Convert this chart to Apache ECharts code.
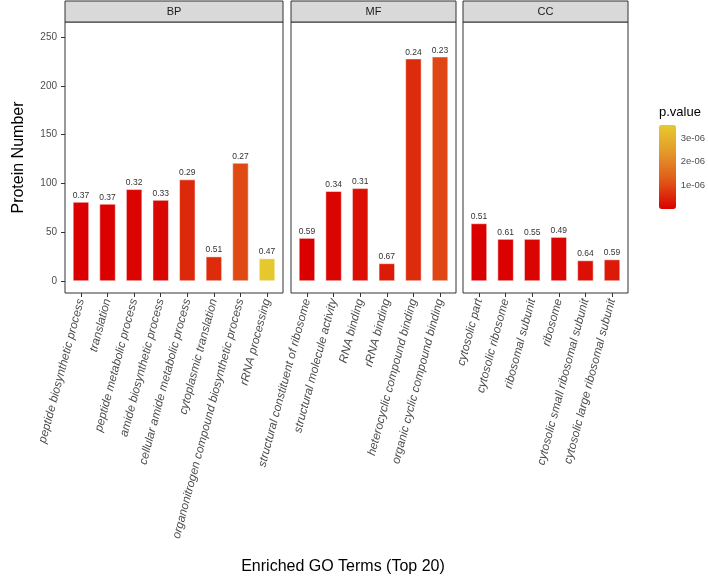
<!DOCTYPE html>
<html><head><meta charset="utf-8">
<script src="https://cdn.jsdelivr.net/npm/echarts@6/dist/echarts.min.js"></script>
<style>html,body{margin:0;padding:0;background:#fff}#c{width:708px;height:581px}</style>
</head><body><div id="c"></div>
<script>
// ---- data ----
const panelNames = ['BP', 'MF', 'CC'];

const bpTerms = ['peptide biosynthetic process', 'translation', 'peptide metabolic process', 'amide biosynthetic process', 'cellular amide metabolic process', 'cytoplasmic translation', 'organonitrogen compound biosynthetic process', 'rRNA processing'];
const bpCounts = [81, 79, 94, 83, 104, 25, 121, 23];
const bpRatios = [0.37, 0.37, 0.32, 0.33, 0.29, 0.51, 0.27, 0.47];
const bpPvals = [0.0e-6, 0.02e-6, 0.05e-6, 0.08e-6, 0.55e-6, 0.6e-6, 1.0e-6, 3.5e-6];

const mfTerms = ['structural constituent of ribosome', 'structural molecule activity', 'RNA binding', 'rRNA binding', 'heterocyclic compound binding', 'organic cyclic compound binding'];
const mfCounts = [44, 92, 95, 18, 228, 230];
const mfRatios = [0.59, 0.34, 0.31, 0.67, 0.24, 0.23];
const mfPvals = [0.0e-6, 0.05e-6, 0.2e-6, 0.35e-6, 0.6e-6, 0.95e-6];

const ccTerms = ['cytosolic part', 'cytosolic ribosome', 'ribosomal subunit', 'ribosome', 'cytosolic small ribosomal subunit', 'cytosolic large ribosomal subunit'];
const ccCounts = [59, 43, 43, 45, 21, 22];
const ccRatios = [0.51, 0.61, 0.55, 0.49, 0.64, 0.59];
const ccPvals = [0.0e-6, 0.02e-6, 0.05e-6, 0.05e-6, 0.2e-6, 0.35e-6];

const yTicks = [0, 50, 100, 150, 200, 250];
const pMin = 0, pMax = 3.56e-6;
const legendTicks = [1e-6, 2e-6, 3e-6];
const legendTickLabels = ['1e-06', '2e-06', '3e-06'];

// ---- layout ----
const FONT = "'Liberation Sans', Arial, sans-serif";
const panels = [
  {name: panelNames[0], terms: bpTerms, counts: bpCounts, ratios: bpRatios, pvals: bpPvals, left: 65, width: 218},
  {name: panelNames[1], terms: mfTerms, counts: mfCounts, ratios: mfRatios, pvals: mfPvals, left: 291, width: 165},
  {name: panelNames[2], terms: ccTerms, counts: ccCounts, ratios: ccRatios, pvals: ccPvals, left: 463, width: 165}
];
const gridTop = 22, gridHeight = 271, yMin = -12.3, yMax = 265.6;

const grids = [], xAxes = [], yAxes = [], series = [], graphics = [];
panels.forEach((p, k) => {
  grids.push({left: p.left, top: gridTop, width: p.width, height: gridHeight, show: true,
    borderColor: '#333', borderWidth: 1, backgroundColor: '#fff', containLabel: false});
  const idx = p.terms.map((t, i) => i);
  xAxes.push({type: 'value', gridIndex: k, min: -0.6, max: p.terms.length - 0.4, position: 'bottom',
    axisLine: {show: false, onZero: false}, splitLine: {show: false},
    axisTick: {show: true, customValues: idx, length: 4, lineStyle: {color: '#333', width: 1}},
    axisLabel: {show: true, customValues: idx, rotate: 75, margin: 6,
      formatter: v => p.terms[Math.round(v)] || '', fontStyle: 'italic', fontSize: 11.8,
      color: '#4d4d4d', fontFamily: FONT}});
  yAxes.push({type: 'value', gridIndex: k, min: yMin, max: yMax, position: 'left',
    axisLine: {show: false, onZero: false}, splitLine: {show: false},
    axisTick: {show: k === 0, customValues: yTicks, length: 4, lineStyle: {color: '#333'}},
    axisLabel: {show: k === 0, customValues: yTicks, fontSize: 10, color: '#4d4d4d', margin: 8, fontFamily: FONT},
    name: k === 0 ? 'Protein Number' : '', nameLocation: 'middle', nameGap: 38,
    nameTextStyle: {fontSize: 16, color: '#000', fontFamily: FONT}});
  series.push({type: 'bar', xAxisIndex: k, yAxisIndex: k, barWidth: 16,
    data: p.terms.map((t, i) => [i, p.counts[i], p.pvals[i], p.ratios[i]]),
    encode: {x: 0, y: 1},
    itemStyle: {borderColor: '#fff', borderWidth: 0.5},
    label: {show: true, position: 'top', distance: 2, fontSize: 8.5, color: '#333', fontFamily: FONT,
      formatter: q => q.value[3].toFixed(2)}});
  graphics.push({type: 'rect', shape: {x: p.left, y: 1, width: p.width, height: gridTop - 1},
    style: {fill: '#D9D9D9', stroke: '#333', lineWidth: 1}});
  graphics.push({type: 'text', x: p.left + p.width / 2, y: 1 + (gridTop - 1) / 2,
    style: {text: p.name, fill: '#1a1a1a', fontSize: 11, fontFamily: FONT, align: 'center', verticalAlign: 'middle'}});
});

// legend axis grid
const lgLeft = 659, lgTop = 125, lgW = 17, lgH = 84;
grids.push({left: lgLeft, top: lgTop, width: lgW, height: lgH, show: false});
xAxes.push({type: 'value', gridIndex: 3, show: false, min: 0, max: 1});
yAxes.push({type: 'value', gridIndex: 3, min: pMin, max: pMax, position: 'right',
  axisLine: {show: false, onZero: false}, splitLine: {show: false},
  axisTick: {show: true, inside: true, length: 3, customValues: legendTicks, lineStyle: {color: '#fff', width: 1}},
  axisLabel: {show: true, customValues: legendTicks, margin: 7, fontSize: 9.5, color: '#4d4d4d', fontFamily: FONT,
    formatter: v => legendTickLabels[legendTicks.findIndex(t => Math.abs(t - v) < 1e-9)] || ''}});
yAxes.push({type: 'value', gridIndex: 3, min: pMin, max: pMax, position: 'left',
  axisLine: {show: false, onZero: false}, splitLine: {show: false},
  axisTick: {show: true, inside: true, length: 3, customValues: legendTicks, lineStyle: {color: '#fff', width: 1}},
  axisLabel: {show: false}});

graphics.push({type: 'text', x: 659, y: 112,
  style: {text: 'p.value', fill: '#000', fontSize: 13, fontFamily: FONT, align: 'left', verticalAlign: 'middle'}});
graphics.push({type: 'text', x: 343, y: 567,
  style: {text: 'Enriched GO Terms (Top 20)', fill: '#000', fontSize: 16, fontFamily: FONT, align: 'center', verticalAlign: 'middle'}});

const chart = echarts.init(document.getElementById('c'), null, {renderer: 'canvas'});
chart.setOption({
  animation: false,
  backgroundColor: '#fff',
  grid: grids, xAxis: xAxes, yAxis: yAxes, series: series,
  visualMap: {type: 'continuous', min: pMin, max: pMax, dimension: 2, seriesIndex: [0, 1, 2],
    calculable: false, text: null, showLabel: false, padding: 0,
    left: lgLeft, top: lgTop, itemWidth: lgW, itemHeight: lgH, z: 1,
    inRange: {color: ['#DA0000', '#E05818', '#E3982A', '#E6C92E']}},
  graphic: graphics
});
</script></body></html>
